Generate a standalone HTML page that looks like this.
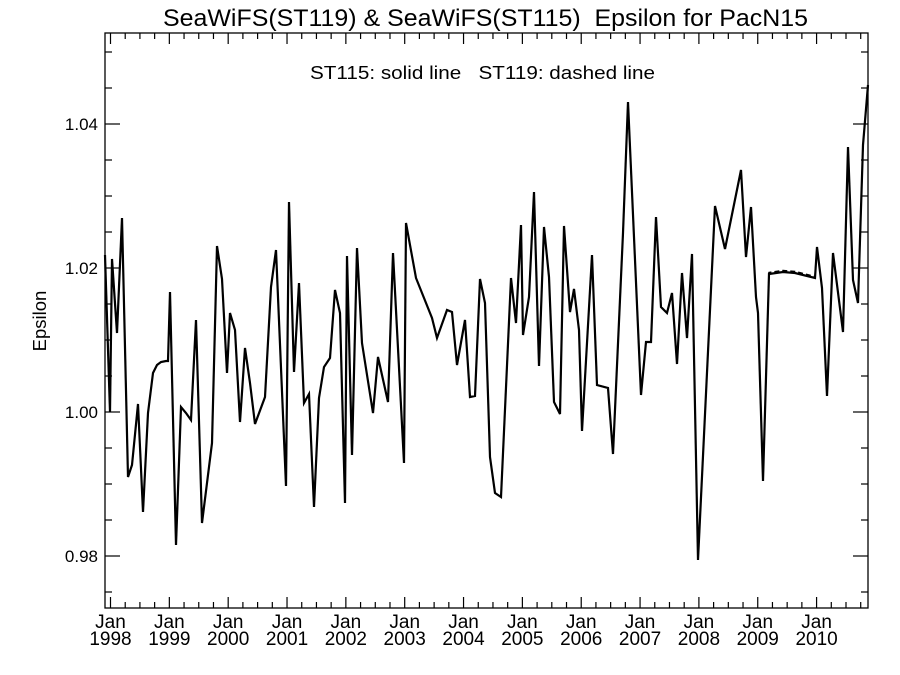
<!DOCTYPE html>
<html><head><meta charset="utf-8"><style>
html,body{margin:0;padding:0;background:#fff;}
svg{display:block;font-family:"Liberation Sans",sans-serif;}
</style></head><body>
<svg id="s" width="900" height="675" xmlns="http://www.w3.org/2000/svg">
<rect width="900" height="675" fill="#fff"/>
<text x="163" y="26" font-size="24" textLength="645" lengthAdjust="spacingAndGlyphs" xml:space="preserve">SeaWiFS(ST119) &amp; SeaWiFS(ST115)  Epsilon for PacN15</text>
<text x="310" y="79" font-size="18" textLength="345" lengthAdjust="spacingAndGlyphs" xml:space="preserve">ST115: solid line   ST119: dashed line</text>
<text transform="translate(46,321) rotate(-90)" font-size="18.5" text-anchor="middle">Epsilon</text>
<rect x="105" y="33" width="763" height="575" fill="none" stroke="#000" stroke-width="1.3"/>
<g id="ticks" stroke="#000" stroke-width="1.2"></g>
<g id="labels" font-size="17"></g>
<g id="xlabels" font-size="19"></g>
<polyline id="sol" fill="none" stroke="#000" stroke-width="2.2" stroke-linejoin="miter"/>
<polyline id="dash" fill="none" stroke="#000" stroke-width="1.5" stroke-dasharray="5,3"/>
</svg>
<script>
var NS="http://www.w3.org/2000/svg";
function el(t,a,p,txt){var e=document.createElementNS(NS,t);for(var k in a)e.setAttribute(k,a[k]);if(txt)e.textContent=txt;document.getElementById(p).appendChild(e);return e;}
for(var k=0;;k++){var x=110.5+k*14.71;if(x>867)break;var L=(k%4==0)?11:6;
el("line",{x1:x,y1:608,x2:x,y2:608-L},"ticks");el("line",{x1:x,y1:33,x2:x,y2:33+L},"ticks");
if(k%4==0){var yr=1998+k/4;el("text",{x:x,y:628,"text-anchor":"middle"},"xlabels","Jan");el("text",{x:x,y:645,"text-anchor":"middle"},"xlabels",String(yr));}}
for(var i=0;i<=15;i++){var v=0.975+i*0.005;var y=412-(v-1)*7200;if(y<34)continue;var maj=(i%4==1);var L=maj?15:7;
el("line",{x1:105,y1:y,x2:105+L,y2:y},"ticks");el("line",{x1:868,y1:y,x2:868-L,y2:y},"ticks");
if(maj)el("text",{x:98,y:y+6,"text-anchor":"end"},"labels",v.toFixed(2));}
var p=[[105,255],[110,412],[112,259],[117,333],[122,218],[128,477],[132,465],[138,404],[143,512],[148,413],[153,373],[157,365],[161,362],[166,361],[168,361],[170,292],[176,545],[181,407],[186,413],[191,420],[196,320],[202,523],[207,483],[212,443],[217,246],[222,279],[227,373],[230,313],[235,330],[240,422],[245,348],[250,383],[255,424],[265,397],[271,287],[276,250],[286,486],[289,202],[294,372],[299,283],[304,403],[309,394],[314,507],[319,398],[324,367],[330,358],[335,290],[340,313],[345,503],[347,256],[352,455],[357,248],[362,343],[373,413],[378,357],[388,402],[393,253],[404,463],[406,223],[416,278],[432,318],[437,338],[447,310],[452,312],[457,365],[465,320],[470,397],[475,396],[480,279],[485,303],[490,457],[495,493],[501,497],[511,278],[516,323],[521,225],[523,335],[529,297],[534,192],[539,366],[544,227],[549,277],[554,402],[560,414],[564,226],[570,312],[574,289],[579,330],[582,431],[592,255],[597,385],[608,388],[613,454],[623,233],[628,102],[641,395],[646,342],[651,342],[656,217],[661,307],[667,313],[672,293],[677,364],[682,273],[687,338],[692,254],[698,560],[715,206],[725,249],[741,170],[746,257],[751,207],[756,297],[758,313],[763,481],[769,274],[783,272],[795,273],[815,278],[817,247],[822,288],[827,396],[833,253],[843,332],[848,147],[853,280],[858,303],[863,145],[868,85]];
document.getElementById("sol").setAttribute("points",p.map(function(q){return q.join(",")}).join(" "));
document.getElementById("dash").setAttribute("points",p.map(function(q){var y=(q[0]>=769&&q[0]<=815)?q[1]-1.5:q[1];return q[0]+","+y}).join(" "));
</script>
</body></html>
